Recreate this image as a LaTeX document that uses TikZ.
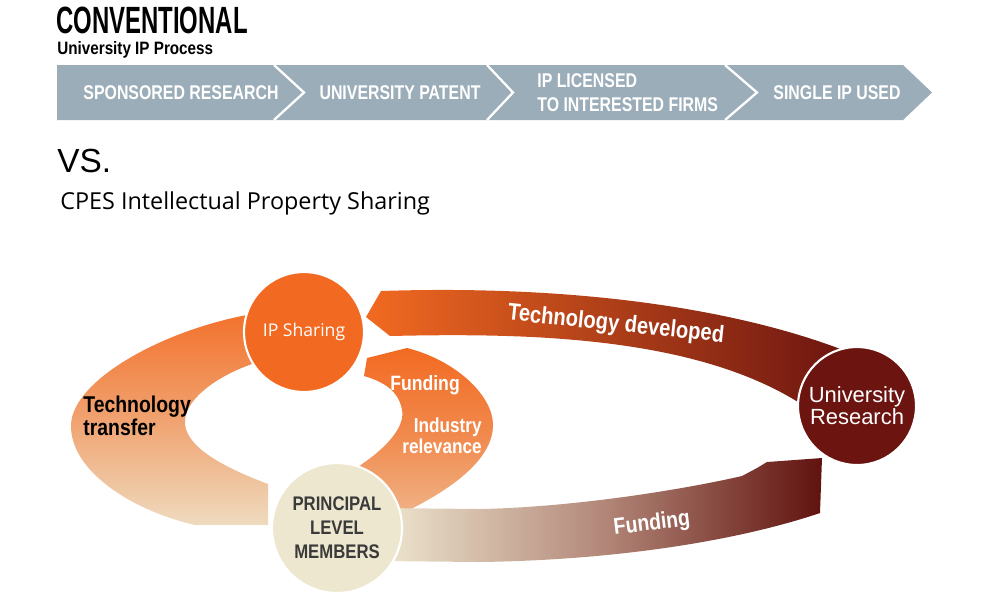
\documentclass[tikz,border=0pt]{standalone}
\usepackage{fontspec}
\setmainfont{Liberation Sans}
\newfontfamily\condfont[FakeStretch=0.85]{Liberation Sans}
\newfontfamily\barfont[FakeStretch=0.8]{Liberation Sans}
\newfontfamily\headfont[FakeStretch=0.63]{Liberation Sans}
\newfontfamily\roundfont{Open Sans}
\usetikzlibrary{positioning}
\definecolor{ipOrange}{HTML}{F26A21}
\definecolor{urMaroon}{HTML}{6B1410}
\definecolor{plmCream}{HTML}{EEE7D0}
\definecolor{barGray}{HTML}{9BADB9}
\definecolor{plmText}{HTML}{3A3A3A}
\tikzset{
  hub/.style={circle,draw=white,line width=1.2pt,inner sep=0pt,align=center},
  barlabel/.style={text=white,inner sep=0pt,font=\barfont\bfseries\fontsize{11.3}{13.6}\selectfont},
  bandlabel/.style={inner sep=0pt,font=\condfont\bfseries\fontsize{13}{13}\selectfont}
}
\begin{document}
\begin{tikzpicture}[x=0.02cm,y=-0.02cm]
  \useasboundingbox (0,0) rectangle (1000,600);
  % conventional process
  \node[anchor=base west,inner sep=0pt,font=\headfont\bfseries\fontsize{21.6}{22}\selectfont] (conv) at (56,33) {CONVENTIONAL};
  \node[anchor=base west,inner sep=0pt,font=\condfont\bfseries\fontsize{10.2}{12}\selectfont] (convsub) at (57,54) {University IP Process};
  \fill[barGray] (57,65) -- (903,65) -- (932,92.5) -- (903,120) -- (57,120) -- cycle;
  \foreach \a/\b in {274/304,487/513,725/757}
    \draw[white,line width=1.3pt] (\a,65) -- (\b,92.5) -- (\a,120);
  \node[barlabel] (spons) at (181,92.5) {SPONSORED RESEARCH};
  \node[barlabel] (patent) at (400,92.5) {UNIVERSITY PATENT};
  \node[barlabel,anchor=west,align=left] (licensed) at (537,92.5) {IP LICENSED\\TO INTERESTED FIRMS};
  \node[barlabel] (single) at (837,92.5) {SINGLE IP USED};
  \node[anchor=base west,inner sep=0pt,font=\fontsize{19}{22}\selectfont] (vs) at (57,172) {VS.};
  \node[anchor=base west,inner sep=0pt,font=\roundfont\fontsize{13.3}{15}\selectfont] (cpes) at (60,209) {CPES Intellectual Property Sharing};
  % technology transfer
  \shade[top color=ipOrange!95!white,bottom color=plmCream!90!ipOrange,middle color=ipOrange!55!plmCream]
    (258,313) .. controls (165,328) and (72,380) .. (71,425) .. controls (70,470) and (130,510) .. (195,525)
    -- (268,525) -- (268,484) .. controls (220,466) and (183,445) .. (185,420)
    .. controls (187,397) and (220,374) .. (258,362) -- cycle;
  % funding / industry relevance
  \shade[top color=ipOrange,bottom color=ipOrange!40!plmCream,middle color=ipOrange!75!plmCream]
    (407,348) .. controls (455,360) and (493,395) .. (493,425) .. controls (493,460) and (450,490) .. (405,512)
    -- (390,520) -- (355,470) -- (362,464) .. controls (390,445) and (405,425) .. (402,410)
    .. controls (399,392) and (385,382) .. (364,376) -- (367,358) -- cycle;
  % technology developed
  \shade[left color=ipOrange,right color=urMaroon,middle color=ipOrange!50!urMaroon]
    (381,291) -- (366,317) -- (390,336) .. controls (520,333) and (690,335) .. (798,402)
    -- (852,402) -- (848,352) -- (835,347) .. controls (720,305) and (560,285) .. (381,291) -- cycle;
  % funding
  \shade[left color=plmCream,right color=urMaroon!90!black,middle color=plmCream!55!urMaroon]
    (380,508) -- (480,509) .. controls (580,507) and (690,488) .. (742,476) -- (757,468) -- (767,462)
    -- (822,458) -- (820,513) .. controls (740,540) and (620,560) .. (480,562) -- (380,561) -- cycle;
  % hubs
  \node[hub,fill=ipOrange,minimum size=2.4cm,text=white,font=\roundfont\fontsize{10}{12}\selectfont] (ip) at (304,332) {IP Sharing};
  \node[hub,fill=urMaroon,minimum size=2.36cm,text=white,font=\fontsize{12.5}{12.4}\selectfont] (ur) at (857,406) {University\\Research};
  \node[hub,fill=plmCream,minimum size=2.6cm,text=plmText,font=\condfont\bfseries\fontsize{11.2}{13.6}\selectfont] (plm) at (337,528) {PRINCIPAL\\LEVEL\\MEMBERS};
  % band labels
  \node[bandlabel,anchor=west,align=left] (tt) at (83,416) {Technology\\transfer};
  \node[bandlabel,text=white,rotate=-6,font=\condfont\bfseries\fontsize{13.5}{13}\selectfont] (td) at (616,325) {Technology developed};
  \node[bandlabel,text=white,rotate=7] (fd) at (652,524) {Funding};
  \node[bandlabel,text=white,anchor=base,font=\condfont\bfseries\fontsize{11.8}{12}\selectfont] (fi) at (425,390) {Funding};
  \node[bandlabel,text=white,anchor=east,align=right,font=\condfont\bfseries\fontsize{11.5}{10.2}\selectfont] (rel) at (482,436) {Industry\\relevance};
\end{tikzpicture}
\end{document}
